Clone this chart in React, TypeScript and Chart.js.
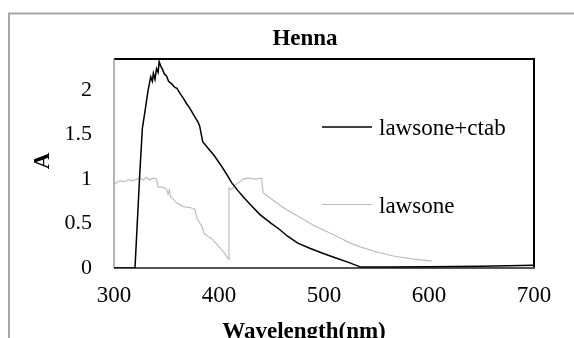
import React, { useEffect, useRef } from "react";
import { Chart, registerables } from "chart.js";

Chart.register(...registerables);

const chartTitle = "Henna";
const xAxisTitle = "Wavelength(nm)";
const yAxisTitle = "A";
const seriesNames = ["lawsone+ctab", "lawsone"];
const seriesColors = ["#000000", "#bdbdbd"];

const xTickValues = [300, 400, 500, 600, 700];
const yTickValues = [0, 0.5, 1, 1.5, 2];

const wavelengthCtab = [
  300, 320, 324.5, 327, 329.5, 332.5, 335, 336.5, 337.5, 339, 340.5, 342, 343,
  344.5, 346, 348, 350, 352, 355, 358, 360, 363, 366, 369, 372, 376, 380, 381.5,
  384.5, 390, 395, 401, 407, 412, 418, 423, 430, 439, 450, 458, 465, 475, 487,
  500, 512, 524, 535, 560, 600, 650, 700,
];
const absCtab = [
  0, 0, 1.05, 1.57, 1.76, 2.0, 2.15, 2.1, 2.19, 2.12, 2.24, 2.2, 2.32, 2.27,
  2.24, 2.18, 2.16, 2.1, 2.07, 2.03, 2.02, 1.96, 1.91, 1.85, 1.8, 1.72, 1.64,
  1.6, 1.42, 1.34, 1.27, 1.17, 1.06, 0.96, 0.87, 0.8, 0.71, 0.6, 0.5, 0.43,
  0.36, 0.28, 0.22, 0.16, 0.11, 0.06, 0.01, 0.01, 0.015, 0.02, 0.03,
];

const wavelengthLaw = [
  300, 303, 306, 310, 314, 318, 322, 325, 328, 331, 334, 337, 340.5, 342, 346,
  350, 351.5, 352.7, 354, 356, 359.7, 363, 366, 372, 377, 379, 382, 384, 385.7,
  390, 393, 400, 405, 409, 409.5, 412, 415, 419, 423, 428, 434, 440.5, 442, 446,
  452, 460, 471, 480, 490, 502.5, 515, 525, 534, 550, 566, 585, 602.5,
];
const absLaw = [
  0.93, 0.97, 0.98, 0.97, 0.99, 0.98, 1.0, 1.01, 0.99, 1.02, 0.99, 1.01, 1.0,
  0.91, 0.91, 0.89, 0.83, 0.88, 0.8, 0.78, 0.73, 0.71, 0.69, 0.68, 0.66, 0.56,
  0.5, 0.46, 0.39, 0.35, 0.33, 0.24, 0.17, 0.1, 0.9, 0.88, 0.93, 0.96, 1.0,
  1.01, 1.0, 1.01, 0.85, 0.81, 0.76, 0.69, 0.61, 0.55, 0.48, 0.41, 0.34, 0.28,
  0.24, 0.18, 0.135, 0.1, 0.08,
];

const FONT = "'Liberation Serif', 'Times New Roman', serif";

const decorPlugin = {
  id: "decor",
  beforeDatasetsDraw(chart: any) {
    const { ctx, chartArea } = chart;
    const { left, right, top, bottom } = chartArea;
    ctx.save();
    // outer chart border
    ctx.strokeStyle = "#a6a6a6";
    ctx.lineWidth = 2;
    ctx.beginPath();
    ctx.moveTo(9, 338);
    ctx.lineTo(9, 13.5);
    ctx.lineTo(574, 13.5);
    ctx.stroke();
    // plot border: top & right black
    ctx.strokeStyle = "#000000";
    ctx.lineWidth = 2;
    ctx.beginPath();
    ctx.moveTo(left, top);
    ctx.lineTo(right, top);
    ctx.lineTo(right, bottom);
    ctx.stroke();
    // left axis gray
    ctx.strokeStyle = "#9a9a9a";
    ctx.lineWidth = 1.5;
    ctx.beginPath();
    ctx.moveTo(left, top);
    ctx.lineTo(left, bottom);
    ctx.stroke();
    // bottom axis dark gray
    ctx.strokeStyle = "#555555";
    ctx.lineWidth = 2;
    ctx.beginPath();
    ctx.moveTo(left, bottom);
    ctx.lineTo(right + 1, bottom);
    ctx.stroke();
    ctx.restore();
  },
  afterDraw(chart: any) {
    const { ctx } = chart;
    ctx.save();
    ctx.fillStyle = "#000000";
    // chart title
    ctx.font = `bold 23px ${FONT}`;
    ctx.textAlign = "center";
    ctx.textBaseline = "alphabetic";
    ctx.fillText(chartTitle, 305, 45);
    // x axis title
    ctx.font = `bold 23px ${FONT}`;
    ctx.fillText(xAxisTitle, 304, 338);
    // y axis title
    ctx.save();
    ctx.translate(43, 161);
    ctx.rotate(-Math.PI / 2);
    ctx.textBaseline = "middle";
    ctx.fillText(yAxisTitle, 0, 0);
    ctx.restore();
    // legend
    const items = [
      { lineY: 127, baseY: 135 },
      { lineY: 204.5, baseY: 213 },
    ];
    chart.data.datasets.forEach((ds: any, i: number) => {
      const it = items[i];
      ctx.strokeStyle = ds.borderColor;
      ctx.lineWidth = ds.borderWidth;
      ctx.beginPath();
      ctx.moveTo(322, it.lineY);
      ctx.lineTo(372, it.lineY);
      ctx.stroke();
      ctx.fillStyle = "#000000";
      ctx.font = `23px ${FONT}`;
      ctx.textAlign = "left";
      ctx.textBaseline = "alphabetic";
      ctx.fillText(ds.label, 379, it.baseY);
    });
    ctx.restore();
  },
};

export default function App() {
  const ref = useRef<HTMLCanvasElement | null>(null);
  useEffect(() => {
    if (!ref.current) return;
    const chart = new Chart(ref.current, {
      type: "line",
      data: {
        datasets: [
          {
            label: seriesNames[0],
            data: wavelengthCtab.map((x, i) => ({ x, y: absCtab[i] })),
            borderColor: seriesColors[0],
            borderWidth: 1.5,
            pointRadius: 0,
            tension: 0,
            fill: false,
          },
          {
            label: seriesNames[1],
            data: wavelengthLaw.map((x, i) => ({ x, y: absLaw[i] })),
            borderColor: seriesColors[1],
            borderWidth: 1.2,
            pointRadius: 0,
            tension: 0,
            fill: false,
          },
        ],
      },
      options: {
        animation: false,
        responsive: false,
        events: [],
        layout: { padding: { left: 0, top: 59, right: 40, bottom: 0 } },
        plugins: {
          legend: { display: false },
          title: { display: false },
          tooltip: { enabled: false },
        },
        scales: {
          x: {
            type: "linear",
            min: 300,
            max: 700,
            grid: { display: false, drawTicks: false },
            border: { display: false },
            afterFit: (s: any) => {
              s.height = 70;
            },
            afterBuildTicks: (s: any) => {
              s.ticks = xTickValues.map((v) => ({ value: v }));
            },
            ticks: {
              padding: 14,
              maxRotation: 0,
              autoSkip: false,
              color: "#000",
              font: { family: FONT, size: 23 },
              callback: (v: any) => String(v),
            },
          },
          y: {
            type: "linear",
            min: 0,
            max: 2.35,
            grid: { display: false, drawTicks: false },
            border: { display: false },
            afterFit: (s: any) => {
              s.width = 114;
            },
            afterBuildTicks: (s: any) => {
              s.ticks = yTickValues.map((v) => ({ value: v }));
            },
            ticks: {
              padding: 22,
              autoSkip: false,
              color: "#000",
              font: { family: FONT, size: 22 },
              callback: (v: any) => String(v),
            },
          },
        },
      },
      plugins: [decorPlugin],
    });
    return () => chart.destroy();
  }, []);
  return (
    <div
      style={{
        position: "fixed",
        left: 0,
        top: 0,
        width: 574,
        height: 338,
        background: "#ffffff",
        overflow: "hidden",
      }}
    >
      <canvas ref={ref} width={574} height={338} style={{ display: "block", width: 574, height: 338 }} />
    </div>
  );
}
